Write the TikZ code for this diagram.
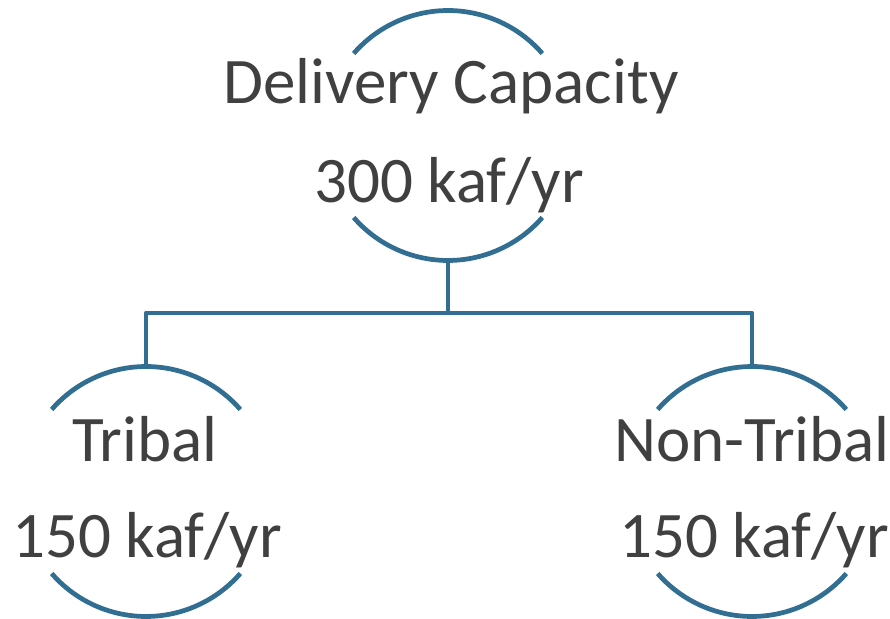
\documentclass[tikz,border=0pt]{standalone}
\usepackage{fontspec}
\setmainfont{Carlito}
\usetikzlibrary{
	positioning
	,calc
}
\definecolor{ringblue}{RGB}{49,110,145}
\definecolor{textgray}{RGB}{64,64,64}
\tikzset{
	ring/.style={
		circle
		,inner sep=0mm
		,outer sep=0mm
		,minimum size=5cm
	},
	tag/.style={
		anchor=base
		,inner sep=0mm
		,text=textgray
		,font=\fontsize{37}{44}\selectfont
	},
	wire/.style={
		draw=ringblue
		,line width=2.7pt
		,line join=round
	}
}

\begin{document}
\begin{tikzpicture}[x=0.02cm, y=0.02cm]
\useasboundingbox (0,0) rectangle (890,619);

\node[ring](cap) at(448,483.5){};
\node[ring](trib) at(146,127.5){};
\node[ring](nontrib) at(752,127.5){};

\node[tag](capname) at(451,515){Delivery Capacity};
\node[tag](capval) at(449,416){300 kaf/yr};
\node[tag](tribname) at(145,157){Tribal};
\node[tag](tribval) at(147,61){150 kaf/yr};
\node[tag](nontribname) at(752,157){Non-Tribal};
\node[tag](nontribval) at(754,61){150 kaf/yr};

\foreach \n in {cap, trib, nontrib}{
	\draw[wire] (\n.41) arc (41:139:2.5cm);
	\draw[wire] (\n.221) arc (221:319:2.5cm);
}

\coordinate(fork) at ($(cap.south)+(0,-52.5)$);
\draw[wire] (cap.south) -- (fork) -| (trib.north);
\draw[wire] (fork) -| (nontrib.north);
\end{tikzpicture}
\end{document}
